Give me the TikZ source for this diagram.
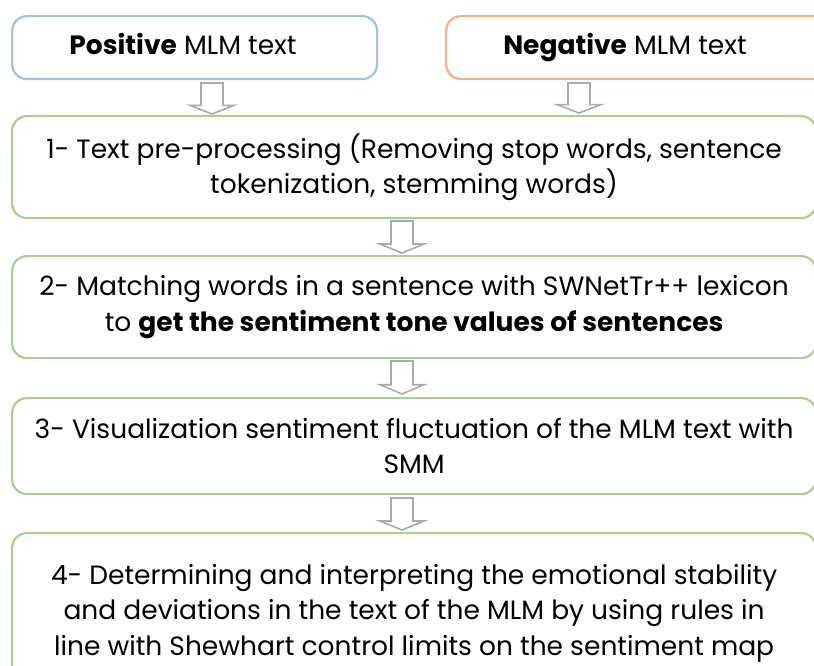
\documentclass[tikz,border=0pt]{standalone}
\usepackage{fontspec}
\setmainfont{Poppins}
\definecolor{boxgreen}{RGB}{169,209,142}
\definecolor{boxblue}{RGB}{157,195,230}
\definecolor{boxorange}{RGB}{244,177,131}
\definecolor{arrowgray}{RGB}{170,170,170}
\tikzset{
  stepbox/.style={draw=boxgreen, line width=2.2pt, rounded corners=15pt,
    align=center, inner sep=0pt, anchor=north west, minimum width=804pt},
  inbox/.style={stepbox, draw=#1},
  hollowarrow/.style={draw=arrowgray, fill=white, line width=1.6pt, line join=miter},
}
\begin{document}
\begin{tikzpicture}[x=1pt,y=-1pt,font=\fontsize{26.5}{35.5}\selectfont]
  \useasboundingbox (0,0) rectangle (814,666);
  \clip (0,0) rectangle (814,666);
  % the two input texts
  \node[inbox=boxblue, minimum width=365pt, minimum height=63pt] (pos) at (11,15) {};
  \node[inbox=boxorange, minimum width=390pt, minimum height=63pt] (neg) at (445,15) {};
  \node[anchor=base] (postext) at (183,55) {\textbf{Positive} MLM text};
  \node[anchor=base] (negtext) at (625,55) {\textbf{Negative} MLM text};
  % the four steps
  \node[stepbox, minimum height=102pt] (s1) at (11,115)
    {1- Text pre-processing (Removing stop words, sentence\\ tokenization, stemming words)};
  \node[stepbox, minimum height=102pt] (s2) at (11,255)
    {2- Matching words in a sentence with SWNetTr++ lexicon\\ to \textbf{get the sentiment tone values of sentences}};
  \node[stepbox, minimum height=96pt] (s3) at (11,397)
    {3- Visualization sentiment fluctuation of the MLM text with\\ SMM};
  \node[stepbox, minimum height=160pt] (s4) at (11,532)
    {4- Determining and interpreting the emotional stability\\ and deviations in the text of the MLM by using rules in\\ line with Shewhart control limits on the sentiment map};
  % hollow block arrows
  \pgfmathsetmacro{\shaft}{11}
  \pgfmathsetmacro{\head}{22}
  \foreach \ax/\ya/\yb in {212/83/114, 579/83/113, 402/221/253, 402/361/394, 402/498/530} {
    \pgfmathsetmacro{\hbase}{\ya+0.72*(\yb-\ya)}
    \draw[hollowarrow, shift={(\ax,0)}] (-\shaft,\ya) -- (\shaft,\ya) -- (\shaft,\hbase)
      -- (\head,\hbase) -- (0,\yb) -- (-\head,\hbase) -- (-\shaft,\hbase) -- cycle;
  }
\end{tikzpicture}
\end{document}
